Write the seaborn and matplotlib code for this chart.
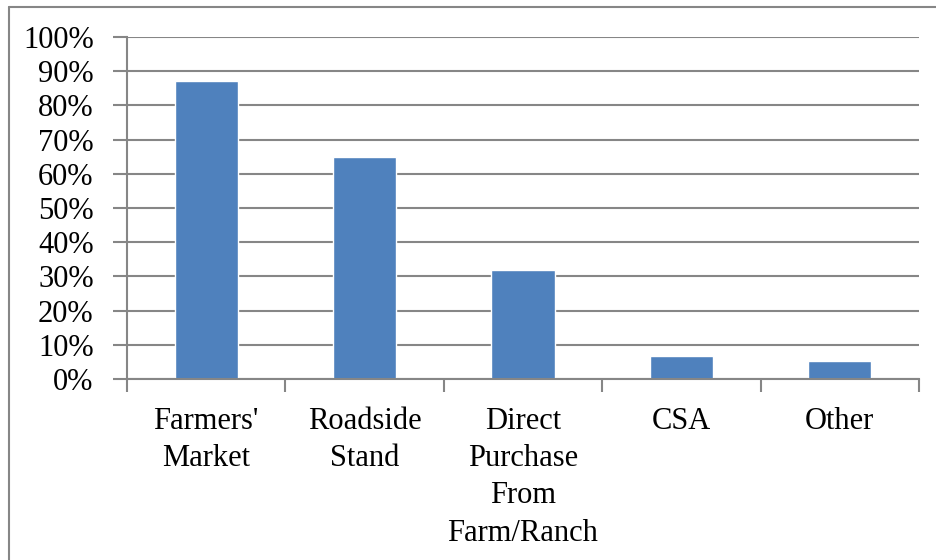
import matplotlib
matplotlib.use("Agg")
import matplotlib.pyplot as plt
import seaborn as sns
import pandas as pd
from matplotlib.lines import Line2D
from matplotlib.ticker import FuncFormatter, FixedLocator

categories = ["Farmers'\nMarket", "Roadside\nStand", "Direct\nPurchase\nFrom\nFarm/Ranch", "CSA", "Other"]
values = [0.87, 0.65, 0.32, 0.066, 0.054]
yticks = [0.0, 0.1, 0.2, 0.3, 0.4, 0.5, 0.6, 0.7, 0.8, 0.9, 1.0]

sns.set_theme(style="white")
plt.rcParams['font.family'] = ['Liberation Serif', 'DejaVu Serif']

df = pd.DataFrame({"cat": categories, "val": values})

fig = plt.figure(figsize=(9.36, 5.6), dpi=100)
ax = fig.add_axes([127/936, 1 - 379/560, (919 - 127)/936, (379 - 37)/560])

sns.barplot(data=df, x="cat", y="val", color="#4F81BD", saturation=1, width=0.40, ax=ax, zorder=3)

ax.set_ylim(0, 1.0)
ax.set_xlim(-0.5, len(categories) - 0.5)
ax.yaxis.set_major_locator(FixedLocator(yticks))
ax.yaxis.set_major_formatter(FuncFormatter(lambda v, p: f"{int(round(v*100))}%"))
grid_c = "#868686"
ax.grid(axis="y", color=grid_c, linewidth=1.5, zorder=0)
ax.set_axisbelow(True)
for s in ["top", "right"]:
    ax.spines[s].set_visible(False)
for s in ["left", "bottom"]:
    ax.spines[s].set_color(grid_c)
    ax.spines[s].set_linewidth(1.5)
    ax.spines[s].set_zorder(4)

ax.set_xlabel("")
ax.set_ylabel("")
ax.tick_params(axis="y", length=10, width=1.5, color=grid_c, direction="out", pad=14, labelsize=22, labelcolor="black", left=True)
ax.set_xticks(range(len(categories)))
ax.set_xticklabels(categories, fontsize=22, linespacing=1.38, color="black")
ax.tick_params(axis="x", length=0, pad=20)
# category boundary ticks
ax.set_xticks([i - 0.5 for i in range(len(categories) + 1)], minor=True)
ax.tick_params(axis="x", which="minor", length=9, width=1.5, color=grid_c, direction="out", bottom=True)

# outer chart border (left and top)
fig.add_artist(Line2D([9/936, 9/936], [0, 1 - 7/560], transform=fig.transFigure, color=grid_c, linewidth=1.5))
fig.add_artist(Line2D([9/936, 1], [1 - 7/560, 1 - 7/560], transform=fig.transFigure, color=grid_c, linewidth=1.5))

fig.savefig("out.png", dpi=100, facecolor="white")
